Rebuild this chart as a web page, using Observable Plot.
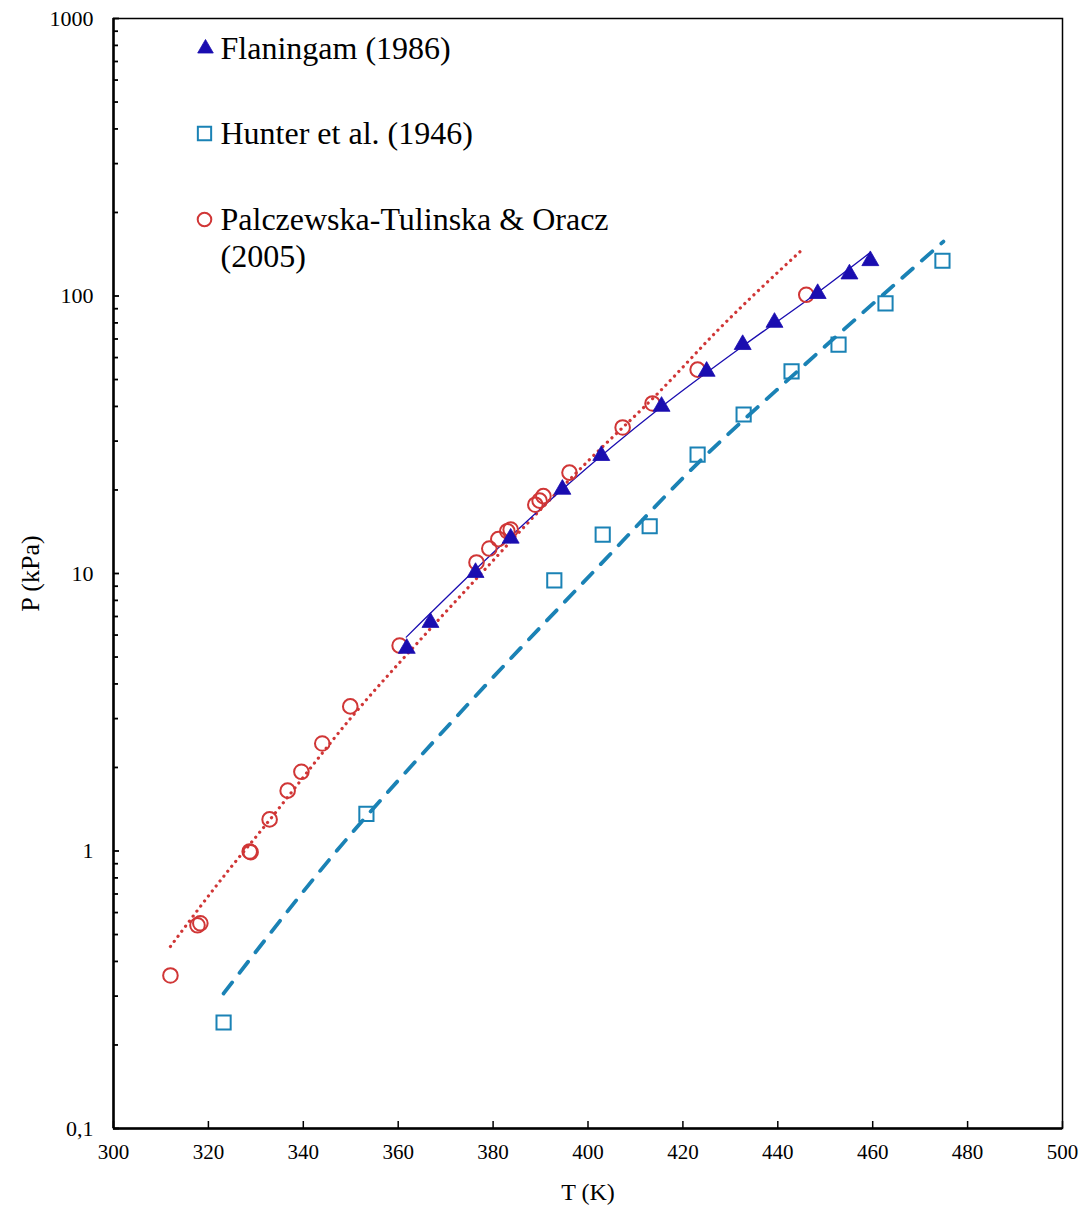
<!DOCTYPE html>
<html>
<head>
<meta charset="utf-8">
<script src="https://cdn.jsdelivr.net/npm/d3@7"></script>
<script src="https://cdn.jsdelivr.net/npm/@observablehq/plot@0.6"></script>
<style>
  html, body { margin: 0; padding: 0; background: #fff; }
  #chart { width: 1089px; height: 1207px; }
</style>
</head>
<body>
<div id="chart"></div>
<script>
// ---- Data ----
const flaningamT = [361.8, 366.8, 376.3, 383.7, 394.6, 402.8, 415.5, 425.0, 432.6, 439.3, 448.4, 455.1, 459.5];
const flaningamP = [5.37, 6.66, 10.08, 13.4, 20.1, 26.6, 40.0, 53.5, 66.8, 80.3, 102, 120, 134];
// correlation curve
const flaningamFitT = [361.7, 376.5, 394.8, 415.3, 432.8, 448.4, 459.5];
const flaningamFitP = [5.90, 10.42, 20.25, 39.65, 66.3, 102.9, 143.5];

const hunterT = [323.2, 353.3, 392.9, 403.1, 413.0, 423.1, 432.8, 442.9, 452.8, 462.7, 474.7];
const hunterP = [0.241, 1.36, 9.44, 13.8, 14.8, 26.8, 37.4, 53.5, 66.8, 94, 134];
const hunterFitT = [323.2, 345.7, 373.1, 401.0, 423.7, 444.8, 474.9];
const hunterFitP = [0.3065, 0.940, 3.156, 10.08, 25.53, 54.8, 157.1];

const palczT = [312.0, 317.7, 318.3, 328.7, 328.9, 332.9, 336.7, 339.6, 344.0, 349.9, 360.3, 376.5, 379.2, 381.1, 383.0, 383.7, 388.9, 389.8, 390.6, 396.1, 407.3, 413.6, 423.1, 446.0];
const palczP = [0.356, 0.540, 0.549, 0.996, 0.99, 1.30, 1.65, 1.93, 2.44, 3.32, 5.50, 10.96, 12.3, 13.3, 14.2, 14.4, 17.7, 18.3, 19.0, 23.1, 33.6, 41.0, 54.3, 101];
const palczFitT = [312.0, 324.2, 330.6, 351.0, 367.4, 376.7, 389.4, 399.9, 414.9, 427.3, 445.4];
const palczFitP = [0.4528, 0.8505, 1.156, 3.156, 6.495, 9.67, 16.59, 25.32, 44.9, 75.1, 148.3];

const xTicks = [300, 320, 340, 360, 380, 400, 420, 440, 460, 480, 500];
const yTicks = [0.1, 1, 10, 100, 1000];
const yTickLabels = ["0,1", "1", "10", "100", "1000"];
const legendLabels = ["Flaningam (1986)", "Hunter et al. (1946)", "Palczewska-Tulinska & Oracz", "(2005)"];

// ---- Styles ----
const cFlan = "#1a0db0";
const cHunt = "#1a82b5";
const cPalc = "#d03636";

const W = 1089, H = 1207;
const mL = 113, mR = 27, mT = 18, mB = 79;
const plotW = W - mL - mR, plotH = H - mT - mB;

const zip = (xs, ys) => xs.map((x, i) => ({T: x, P: ys[i]}));
const flan = zip(flaningamT, flaningamP);
const flanFit = zip(flaningamFitT, flaningamFitP);
const hunt = zip(hunterT, hunterP);
const huntFit = zip(hunterFitT, hunterFitP);
const palc = zip(palczT, palczP);
const palcFit = zip(palczFitT, palczFitP);

// minor ticks for the log axis
const minorY = [];
for (let e = -1; e < 3; e++) for (let m = 2; m <= 9; m++) minorY.push(m * Math.pow(10, e));

const legendFont = 32;

const chart = Plot.plot({
  width: W, height: H,
  marginLeft: mL, marginRight: mR, marginTop: mT, marginBottom: mB,
  style: {fontFamily: "'Liberation Serif', 'Times New Roman', serif", color: "black", background: "white"},
  x: {domain: [300, 500], label: null},
  y: {type: "log", domain: [0.1, 1000], label: null},
  marks: [
    Plot.frame({stroke: "black", strokeWidth: 1.5}),
    Plot.ruleX([300], {stroke: "black", strokeWidth: 2.5}),
    Plot.ruleY([0.1], {stroke: "black", strokeWidth: 2.5}),
    // inward ticks
    Plot.tickX(xTicks, {x: d => d, insetTop: plotH - 7, stroke: "black", strokeWidth: 1.5}),
    Plot.tickY(yTicks, {y: d => d, insetRight: plotW - 6, stroke: "black", strokeWidth: 1.8}),
    Plot.tickY(minorY, {y: d => d, insetRight: plotW - 5, stroke: "black", strokeWidth: 1.8}),
    Plot.axisX({ticks: xTicks, tickSize: 0, tickPadding: 16, fontSize: 21, label: null}),
    Plot.axisY({ticks: yTicks, tickSize: 0, tickPadding: 20, fontSize: 22, label: null,
      tickFormat: d => yTickLabels[yTicks.indexOf(d)]}),
    // correlation curves
    Plot.line(palcFit, {x: "T", y: "P", curve: "monotone-x", stroke: cPalc, strokeWidth: 3.2, strokeDasharray: "0.1 6.2", strokeLinecap: "round"}),
    Plot.line(huntFit, {x: "T", y: "P", curve: "monotone-x", stroke: cHunt, strokeWidth: 3.8, strokeDasharray: "14 12", strokeLinecap: "round"}),
    Plot.line(flanFit, {x: "T", y: "P", curve: "monotone-x", stroke: cFlan, strokeWidth: 1.3}),
    // data points
    Plot.dot(hunt, {x: "T", y: "P", symbol: "square", r: 8, stroke: cHunt, strokeWidth: 2, fill: "none"}),
    Plot.dot(palc, {x: "T", y: "P", symbol: "circle", r: 7.3, stroke: cPalc, strokeWidth: 2, fill: "none"}),
    Plot.dot(flan, {x: "T", y: "P", symbol: "triangle", r: 6.3, fill: cFlan, stroke: cFlan, strokeWidth: 0.8}),
    // legend
    Plot.dot([0], {frameAnchor: "top-left", dx: 92, dy: 30, symbol: "triangle", r: 5.8, fill: cFlan, stroke: cFlan, strokeWidth: 0.8}),
    Plot.dot([0], {frameAnchor: "top-left", dx: 91, dy: 115, symbol: "square", r: 7.5, stroke: cHunt, strokeWidth: 2, fill: "none"}),
    Plot.dot([0], {frameAnchor: "top-left", dx: 91, dy: 201, symbol: "circle", r: 6.8, stroke: cPalc, strokeWidth: 2, fill: "none"}),
    Plot.text([legendLabels[0]], {text: d => d, frameAnchor: "top-left", dx: 107, dy: 30, textAnchor: "start", lineAnchor: "middle", fontSize: legendFont, fill: "black"}),
    Plot.text([legendLabels[1]], {text: d => d, frameAnchor: "top-left", dx: 107, dy: 115, textAnchor: "start", lineAnchor: "middle", fontSize: legendFont, fill: "black"}),
    Plot.text([legendLabels[2]], {text: d => d, frameAnchor: "top-left", dx: 107, dy: 201, textAnchor: "start", lineAnchor: "middle", fontSize: legendFont, fill: "black"}),
    Plot.text([legendLabels[3]], {text: d => d, frameAnchor: "top-left", dx: 107, dy: 238, textAnchor: "start", lineAnchor: "middle", fontSize: legendFont, fill: "black"}),
    // axis titles
    Plot.text(["T (K)"], {text: d => d, frameAnchor: "bottom", dy: 64, textAnchor: "middle", lineAnchor: "middle", fontSize: 24, fill: "black"}),
    Plot.text(["P (kPa)"], {text: d => d, frameAnchor: "left", dx: -83, rotate: -90, textAnchor: "middle", lineAnchor: "middle", fontSize: 26, fill: "black"})
  ]
});
document.getElementById("chart").appendChild(chart);
</script>
</body>
</html>
